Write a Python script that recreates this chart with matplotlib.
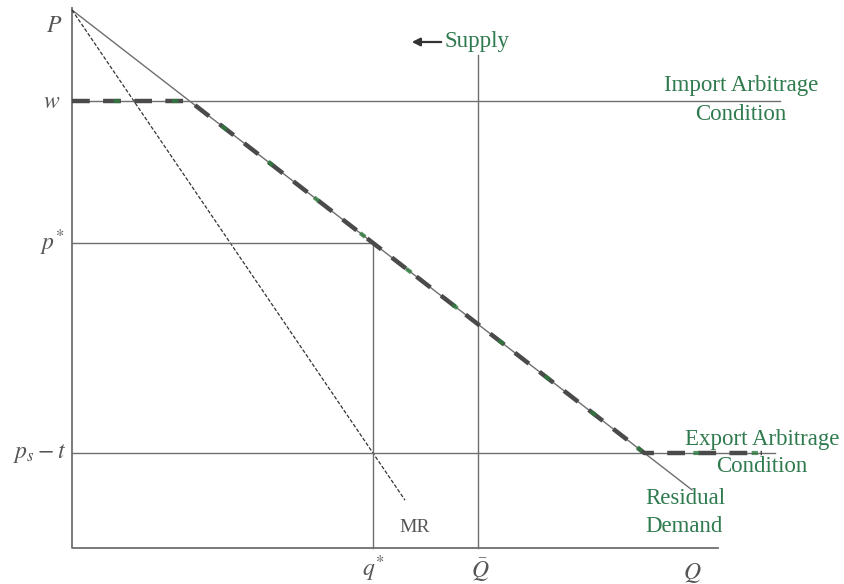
import matplotlib.pyplot as plt
import numpy as np

plt.rcParams['mathtext.fontset'] = 'stix'

# model values (in drawing units, origin at the axes corner)
p_max = 538.0      # demand intercept P
slope_d = 0.774    # residual demand slope
slope_mr = 1.472   # MR slope
w = 447.0          # import arbitrage price
p_star = 305.0
p_s_t = 95.0       # export arbitrage price p_s - t
q_star = 301.0
q_bar = 406.0
q_demand_end = 620.0
q_mr_end = 333.0
q_axis_end = 646.0
p_axis_end = 540.0
supply_top = 493.0
import_end = 708.0
export_end = 703.0
kink_end = 690.0

grey = '#6e6e6e'
green = '#2f7a4e'
serif = 'Liberation Serif'

fig = plt.figure(figsize=(8.44, 5.84), dpi=100)
ax = fig.add_axes([0, 0, 1, 1])
ax.set_xlim(-72, 772)
ax.set_ylim(-36, 548)
ax.axis('off')

# axes
ax.plot([0, 0, q_axis_end], [p_axis_end, 0, 0], color=grey, lw=1.3)

# residual demand
qd = np.array([0, q_demand_end])
ax.plot(qd, p_max - slope_d * qd, color=grey, lw=1.0)

# MR
qm = np.array([0, q_mr_end])
ax.plot(qm, p_max - slope_mr * qm, color='#333333', lw=0.9, ls=(0, (3, 1.5)))

# arbitrage conditions
ax.plot([0, import_end], [w, w], color=grey, lw=1.0)
ax.plot([0, export_end], [p_s_t, p_s_t], color=grey, lw=1.0)

# supply
ax.plot([q_bar, q_bar], [0, supply_top], color=grey, lw=1.0)

# p*, q*
ax.plot([0, q_star, q_star], [p_star, p_star, 0], color=grey, lw=1.0)

# kinked residual demand (thick dashed)
q_w = (p_max - w) / slope_d
q_e = (p_max - p_s_t) / slope_d
kx = [0, q_w, q_e, kink_end]
ky = [w, w, p_s_t, p_s_t]
ax.plot(kx, ky, color='#4a4a4a', lw=3.2, ls=(0, (4, 3)))
ax.plot(kx, ky, color='#2e7d3e', lw=3.0, ls=(4, (1.5, 12.5)), alpha=0.8)

# axis labels
mt = dict(color='#555555', fontsize=17)
ax.text(-10, 523, r'$P$', ha='right', va='center', **mt)
ax.text(-12, 447, r'$w$', ha='right', va='center', **mt)
ax.text(-8, 305, r'$p^{*}$', ha='right', va='center', **mt)
ax.text(-6, 95, r'$p_s - t$', ha='right', va='center', **mt)
ax.text(q_star, -21, r'$q^{*}$', ha='center', va='center', **mt)
ax.text(q_bar + 2, -22, r'$\bar{Q}$', ha='center', va='center', **mt)
ax.text(620, -25, r'$Q$', ha='center', va='center', **mt)
ax.text(343, 21, 'MR', ha='center', va='center', family=serif, color='#555555', fontsize=14)

# green labels
gl = dict(family=serif, color=green, fontsize=16.5)
ax.annotate('', xy=(337, 506), xytext=(372, 506),
            arrowprops=dict(arrowstyle='-|>', color='#333333', lw=1.6, mutation_scale=12))
ax.text(372, 506, 'Supply', ha='left', va='center', **gl)
ax.text(669, 463, 'Import Arbitrage', ha='center', va='center', **gl)
ax.text(669, 433, 'Condition', ha='center', va='center', **gl)
ax.text(690, 108, 'Export Arbitrage', ha='center', va='center', **gl)
ax.text(690, 81, 'Condition', ha='center', va='center', **gl)
ax.text(573, 49, 'Residual', ha='left', va='center', **gl)
ax.text(573, 22, 'Demand', ha='left', va='center', **gl)

fig.savefig('out.png', dpi=100)
